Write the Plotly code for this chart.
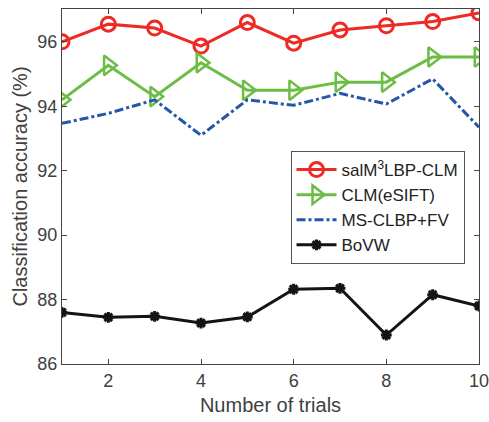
import plotly.graph_objects as go

trials = [1, 2, 3, 4, 5, 6, 7, 8, 9, 10]
salm3 = [96.0, 96.55, 96.43, 95.87, 96.6, 95.96, 96.37, 96.5, 96.63, 96.9]
clm_esift = [94.2, 95.27, 94.3, 95.35, 94.5, 94.5, 94.75, 94.75, 95.53, 95.53]
ms_clbp = [93.47, 93.78, 94.2, 93.1, 94.2, 94.03, 94.4, 94.07, 94.85, 93.35]
bovw = [87.6, 87.45, 87.48, 87.27, 87.46, 88.32, 88.35, 86.9, 88.15, 87.8]

names = ["salM<sup>3</sup>LBP-CLM", "CLM(eSIFT)", "MS-CLBP+FV", "BoVW"]
x_ticks = [2, 4, 6, 8, 10]
y_ticks = [86, 88, 90, 92, 94, 96]

fig = go.Figure()
fig.add_trace(go.Scatter(x=trials, y=salm3, name=names[0], mode="lines+markers",
                         line=dict(color="#EE2A24", width=3),
                         marker=dict(symbol="circle-open", size=14, color="#EE2A24", line=dict(width=3))))
fig.add_trace(go.Scatter(x=trials, y=clm_esift, name=names[1], mode="lines+markers",
                         line=dict(color="#6CBD45", width=3),
                         marker=dict(symbol="triangle-right-open", size=17, color="#6CBD45", line=dict(width=2.5))))
fig.add_trace(go.Scatter(x=trials, y=ms_clbp, name=names[2], mode="lines",
                         line=dict(color="#2457A8", width=3, dash="dashdot")))
fig.add_trace(go.Scatter(x=trials, y=bovw, name=names[3], mode="lines+markers",
                         line=dict(color="#141414", width=3),
                         marker=dict(symbol="asterisk-open", size=9, color="#141414", line=dict(width=3, color="#141414"))))

fig.update_layout(
    width=489, height=422,
    margin=dict(l=62, r=10, t=9, b=58, autoexpand=False),
    paper_bgcolor="white", plot_bgcolor="white",
    font=dict(family="Liberation Sans, Arial, sans-serif", size=18, color="#404040"),
    showlegend=True,
    legend=dict(x=0.548, y=0.60, xanchor="left", yanchor="top",
                bgcolor="white", bordercolor="#555", borderwidth=1,
                font=dict(size=17, color="#222"), tracegroupgap=0,
                itemwidth=40),
)
fig.update_xaxes(range=[1, 10], tickvals=x_ticks, showline=True, linecolor="#444", linewidth=1,
                 mirror="ticks", ticks="inside", ticklen=5, tickcolor="#444", showgrid=False, zeroline=False,
                 ticklabeloverflow="allow",
                 title=dict(text="Number of trials", font=dict(size=20, color="#404040"), standoff=8))
fig.update_yaxes(range=[86, 97.02], tickvals=y_ticks, showline=True, linecolor="#444", linewidth=1,
                 mirror="ticks", ticks="inside", ticklen=5, tickcolor="#444", showgrid=False, zeroline=False,
                 ticklabeloverflow="allow",
                 title=dict(text="Classification accuracy (%)", font=dict(size=20, color="#404040"), standoff=4))

fig.write_html("out.html")
